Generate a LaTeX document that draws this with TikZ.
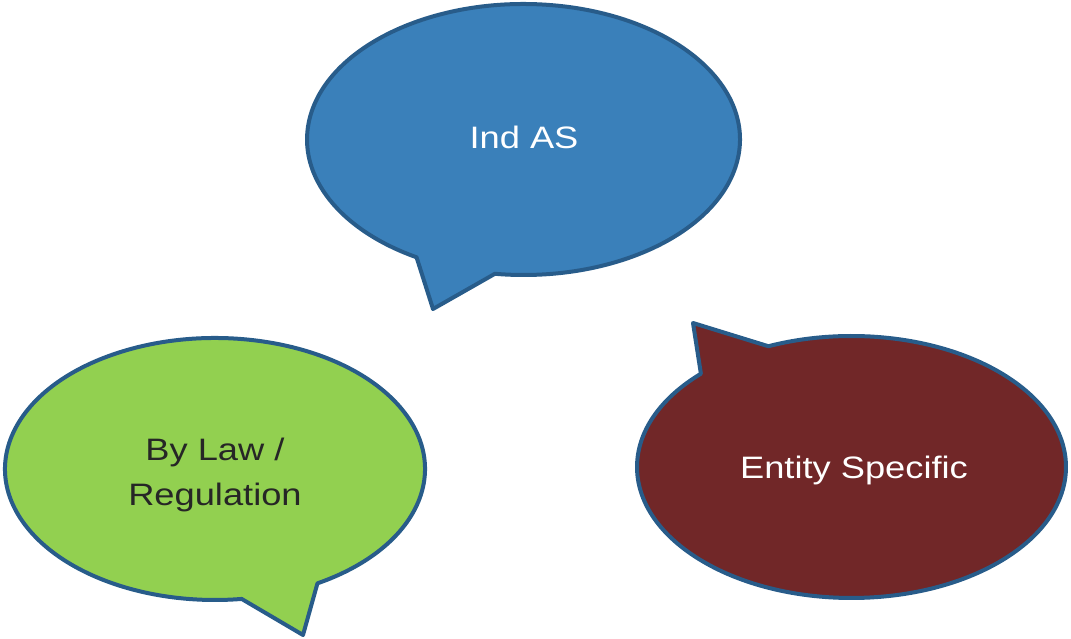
\documentclass[tikz,border=0pt]{standalone}
\usepackage{fontspec}
\newfontfamily\bubfont[FakeStretch=1.17]{Liberation Sans}
\usetikzlibrary{calc}
\definecolor{bluefill}{RGB}{58,128,186}
\definecolor{greenfill}{RGB}{146,208,80}
\definecolor{redfill}{RGB}{113,39,40}
\definecolor{rimblue}{RGB}{40,92,138}
\definecolor{darktext}{RGB}{38,38,38}
\begin{document}
\begin{tikzpicture}[x=1pt,y=1pt,
  bubble/.style={draw=rimblue,line width=4pt,line join=round},
  bubtext/.style={font=\bubfont\fontsize{31pt}{45pt}\selectfont,inner sep=0pt,anchor=base}]
\useasboundingbox (0,0) rectangle (1071,639);
% blue bubble
\coordinate (bc) at (523.5,499.5);
\coordinate (bA) at ($(bc)+(240.4:216.5 and 135.5)$);
\coordinate (bB) at ($(bc)+(262.4:216.5 and 135.5)$);
\coordinate (btip) at (433,330);
\path[bubble,fill=bluefill] (bB) arc[start angle=262.4,end angle=600.4,x radius=216.5,y radius=135.5] -- (btip) -- cycle;
% green bubble
\coordinate (gc) at (215,170);
\coordinate (gA) at ($(gc)+(277.3:210 and 131)$);
\coordinate (gB) at ($(gc)+(299.2:210 and 131)$);
\coordinate (gtip) at (303,4);
\path[bubble,fill=greenfill] (gB) arc[start angle=299.2,end angle=637.3,x radius=210,y radius=131] -- (gtip) -- cycle;
% red bubble
\coordinate (rc) at (851.5,172);
\coordinate (rA) at ($(rc)+(134.6:214.5 and 131)$);
\coordinate (rB) at ($(rc)+(112.8:214.5 and 131)$);
\coordinate (rtip) at (693,316);
\path[bubble,fill=redfill] (rA) arc[start angle=134.6,end angle=472.8,x radius=214.5,y radius=131] -- (rtip) -- cycle;
% texts
\node[bubtext,text=white] (ind) at (524,490) {Ind AS};
\node[bubtext,text=darktext] (law1) at (215,178) {By Law /};
\node[bubtext,text=darktext] (law2) at (215,133) {Regulation};
\node[bubtext,text=white] (ent) at (854,160) {Entity Specific};
\end{tikzpicture}
\end{document}
